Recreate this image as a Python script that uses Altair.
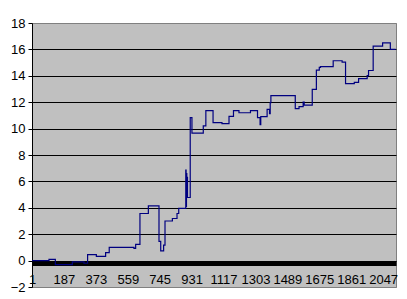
import altair as alt
import pandas as pd

# step breakpoints (sample index, value)
step_x = [1, 100, 137, 236, 304, 325, 376, 430, 451, 595,
          605, 630, 679, 741, 751, 768, 776, 819, 846, 856,
          897, 899, 901, 903, 905, 907, 923, 933, 999, 1014,
          1056, 1108, 1149, 1175, 1207, 1274, 1315, 1330, 1334, 1371,
          1385, 1389, 1393, 1535, 1557, 1581, 1587, 1634, 1658, 1675,
          1682, 1756, 1808, 1828, 1879, 1904, 1954, 1962, 1989, 2044,
          2089, 2120]
step_y = [0.0, 0.1, -0.3, -0.1, -0.2, 0.45, 0.32, 0.6, 1.0, 0.92,
          1.23, 3.57, 4.15, 1.45, 0.74, 1.17, 3.0, 3.19, 3.57, 3.95,
          6.85, 4.1, 6.6, 4.8, 6.3, 4.78, 10.83, 9.65, 10.2, 11.36,
          10.45, 10.38, 10.92, 11.36, 11.2, 11.36, 10.83, 10.3, 10.9, 11.45,
          11.14, 11.97, 12.5, 11.52, 11.67, 12.0, 11.78, 12.97, 14.43, 14.64,
          14.69, 15.14, 15.04, 13.4, 13.5, 13.78, 14.02, 14.4, 16.25, 16.5,
          16.0, 16.0]

x_ticks = [1, 187, 373, 559, 745, 931, 1117, 1303, 1489, 1675, 1861, 2047]
y_ticks = [-2, 0, 2, 4, 6, 8, 10, 12, 14, 16, 18]

df = pd.DataFrame({"x": step_x, "y": step_y})

FONT = "Liberation Sans, Arial"

chart = alt.Chart(df).mark_line(
    interpolate="step-after", color="#000080", strokeWidth=1.2
).encode(
    x=alt.X("x:Q", scale=alt.Scale(domain=[1, 2122], nice=False, zero=False),
            axis=alt.Axis(values=x_ticks, format="d", title=None, grid=False,
                          ticks=False, tickSize=0, domainColor="black",
                          domainWidth=5, offset=-24, labelPadding=10,
                          labelFont=FONT, labelFontSize=13, labelColor="black",
                          labelFlush=False, labelOverlap=False)),
    y=alt.Y("y:Q", scale=alt.Scale(domain=[-2, 18], nice=False, zero=False),
            axis=alt.Axis(values=y_ticks, format="d", title=None, grid=True,
                          gridColor={"condition": {"test": "datum.value == 18 || datum.value == -2",
                                                   "value": "#808080"},
                                     "value": "black"},
                          gridWidth=1, tickSize=4, tickColor="black",
                          domainColor="black", labelPadding=3,
                          labelFont=FONT, labelFontSize=13, labelColor="black",
                          labelFlush=False, labelOverlap=False)),
).properties(
    width=364, height=264,
    autosize=alt.AutoSizeParams(type="none"),
    padding={"left": 32, "top": 23, "right": 11, "bottom": 12},
    background="white",
).configure_view(
    fill="#C0C0C0", stroke="#808080", strokeWidth=1
)

chart.save("out.html", embed_options={"renderer": "svg", "actions": False})
